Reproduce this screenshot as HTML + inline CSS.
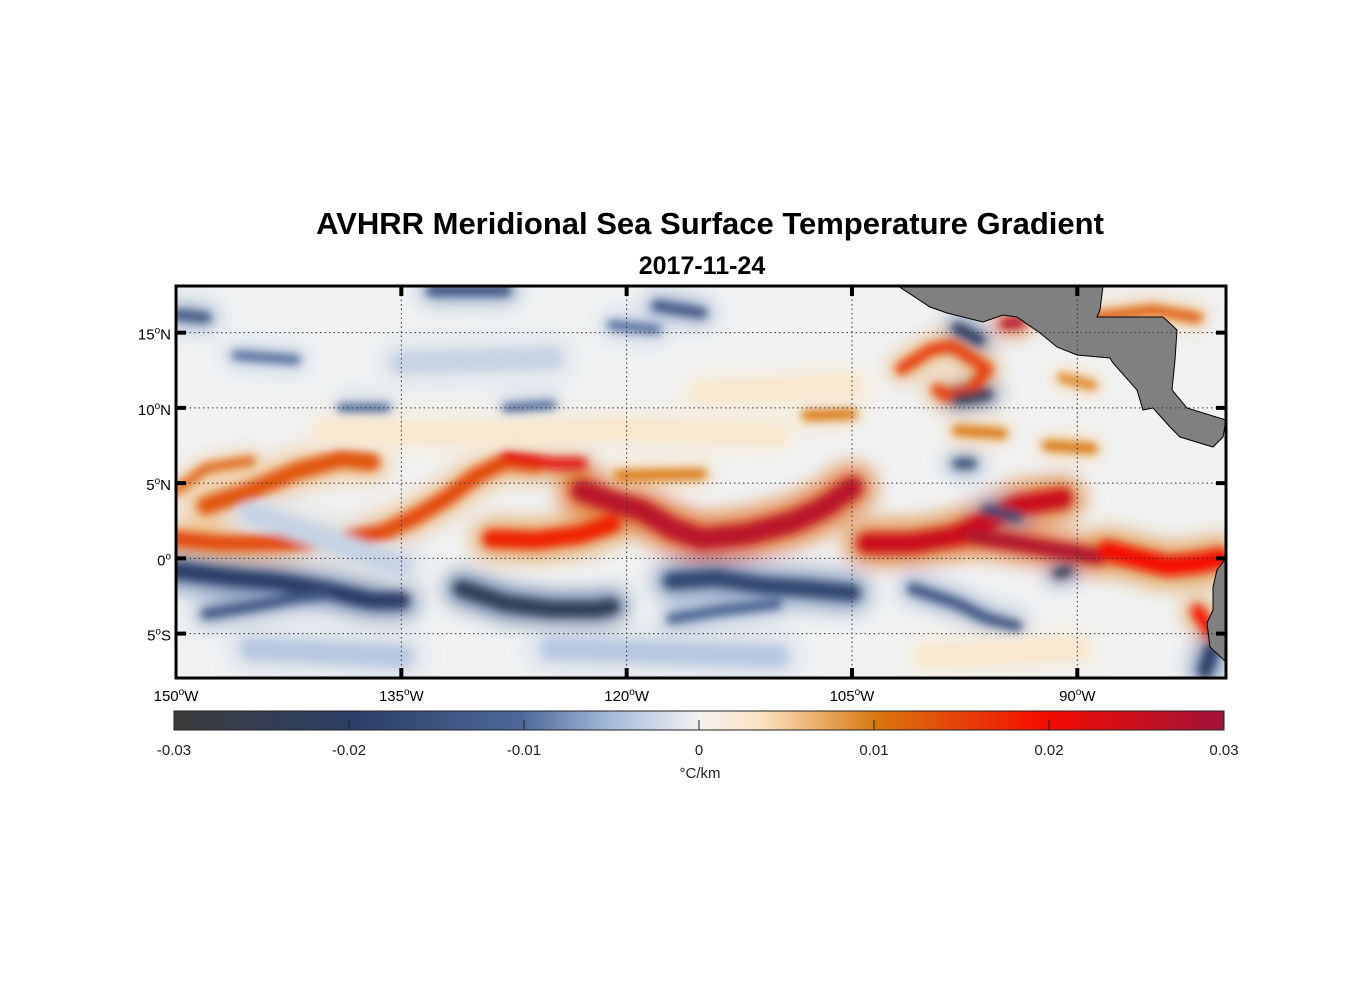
<!DOCTYPE html>
<html><head><meta charset="utf-8">
<style>
body{margin:0;background:#fff;width:1356px;height:1000px;overflow:hidden;font-family:"Liberation Sans",sans-serif;}
</style></head>
<body>
<svg id="chart" width="1356" height="1000" xmlns="http://www.w3.org/2000/svg" font-family="Liberation Sans, sans-serif">
<defs>
<filter id="blur" x="-20%" y="-20%" width="140%" height="140%"><feGaussianBlur stdDeviation="4.5"/></filter>
<filter id="blur2" x="-20%" y="-20%" width="140%" height="140%"><feGaussianBlur stdDeviation="10"/></filter>
<clipPath id="clip"><rect x="176" y="286" width="1050" height="392"/></clipPath>
<linearGradient id="cbar" x1="0" x2="1" y1="0" y2="0">
<stop offset="0" stop-color="#3c3c3c"/><stop offset="0.17" stop-color="#2b3e66"/>
<stop offset="0.33" stop-color="#4d6898"/><stop offset="0.42" stop-color="#a9bedd"/>
<stop offset="0.5" stop-color="#f2f2ef"/><stop offset="0.56" stop-color="#fbe2c2"/>
<stop offset="0.67" stop-color="#d8760e"/><stop offset="0.83" stop-color="#f40c00"/>
<stop offset="1" stop-color="#a0143a"/>
</linearGradient>
</defs>
<text x="710" y="234" text-anchor="middle" font-size="31" font-weight="bold">AVHRR Meridional Sea Surface Temperature Gradient</text>
<text x="702" y="274" text-anchor="middle" font-size="25" font-weight="bold">2017-11-24</text>
<g id="map" clip-path="url(#clip)">
<rect x="176" y="286" width="1050" height="392" fill="#f0f2f3"/>
<g id="halo" filter="url(#blur2)"></g>
<g id="core" filter="url(#blur)"></g>
<g id="land"></g>
<g id="grid"></g>
</g>
<rect x="176" y="286" width="1050" height="392" fill="none" stroke="#000" stroke-width="3"/>
<g id="axes"></g>
<rect x="174" y="711" width="1050" height="19" fill="url(#cbar)" stroke="#222" stroke-width="1"/>
<g id="cbticks"></g>
<text x="700" y="778" text-anchor="middle" font-size="15" fill="#222">°C/km</text>
</svg>
<script>
const lonTicks=[-150,-135,-120,-105,-90];
const lonLabels=['150','135','120','105','90'];
const latTicks=[15,10,5,0,-5];
const latLabels=['15','10','5','0','5'];
const latSuffix=['N','N','N','',"S"];
const cbTicks=[-0.03,-0.02,-0.01,0,0.01,0.02,0.03];
const cbLabels=['-0.03','-0.02','-0.01','0','0.01','0.02','0.03'];
const featPts=[
[[-150,1.3],[-147,1],[-143,1],[-139,1.2],[-136,1.8],[-134,2.8],[-132,4],[-130,5.5],[-128,6.5],[-126,6.3]],
[[-148,3.5],[-145,4.5],[-142,5.8],[-139,6.6],[-137,6.4]],
[[-129,1.3],[-126,1.2],[-123,1.6],[-121,2.3]],
[[-123,4.5],[-121,3.8],[-119,3.2],[-117,2],[-115,1.3],[-112,1.6],[-109,2.4],[-107,3.3],[-105,4.7]],
[[-104,1],[-101,1],[-98,1.5],[-96,2.5],[-94,3.5],[-91,4]],
[[-97,1.5],[-94,1],[-91,0.5],[-88.6,0.1]],
[[-88,0.5],[-86,0],[-84,-0.5],[-82,-0.3],[-80.5,0]],
[[-101.7,12.6],[-99.7,13.9],[-98.3,14.1],[-96,12.6],[-97,11.2],[-98.7,10.8],[-99.3,11.2]],
[[-94.8,15.6],[-93.8,15.7]],
[[-89,16],[-85,16.5],[-82,16]],
[[-150,4.5],[-148,6],[-145,6.5]],
[[-128,6.8],[-125,6.3],[-123,6.3]],
[[-120.5,5.5],[-115,5.6]],
[[-108,9.5],[-105,9.6]],[[-98,8.5],[-95,8.3]],[[-92,7.5],[-89,7.3]],[[-91,12],[-89,11.5]],[[-82,-3.5],[-81,-5]],
[[-150,-0.8],[-147,-1.2],[-143,-1.6],[-140,-2.1],[-137,-2.8],[-135,-2.8]],
[[-148,-3.7],[-145,-3.2],[-142,-2.6],[-140,-2.4]],
[[-131,-2],[-128,-3],[-125,-3.4],[-122,-3.4],[-121,-3.2]],
[[-117,-1.5],[-114,-1.3],[-111,-1.8],[-108,-2],[-105,-2.3]],
[[-117,-4],[-114,-3.5],[-110,-3]],
[[-101,-2],[-98,-3],[-96,-4],[-94,-4.5]],
[[-81,-6],[-81.5,-7.5]],
[[-150,16.2],[-148,16]],[[-133,17.8],[-128,17.8]],[[-118,16.8],[-115,16.3]],
[[-98,15.3],[-96.5,14.5]],[[-98,10.6],[-96,10.9]],[[-91.3,-1],[-90.6,-0.8]],
[[-98,6.3],[-97,6.3]],[[-96,3.2],[-94,2.8]],[[-139,10],[-136,10]],[[-128,10],[-125,10.2]],
[[-146,13.5],[-142,13.2]],[[-121,15.5],[-118,15.2]],
[[-140,8.5],[-130,8.3],[-120,8.6],[-110,8.2]],[[-145,3],[-135,-0.5]],[[-115,11],[-105,11.5]],
[[-135,13],[-125,13.3]],[[-125,-6],[-110,-6.5]],[[-145,-6],[-135,-6.5]],[[-100,-6.5],[-90,-6]]
];
const featVal=[0.014,0.013,0.018,0.027,0.025,0.028,0.02,0.015,0.028,0.012,0.012,0.022,0.01,
0.01,0.01,0.01,0.009,0.02,
-0.02,-0.015,-0.024,-0.018,-0.012,-0.015,-0.02,
-0.015,-0.016,-0.015,-0.022,-0.025,-0.025,-0.018,-0.018,-0.01,-0.01,-0.01,-0.01,
0.003,-0.003,0.003,-0.003,-0.004,-0.004,0.003];
const featW=[1.1,1.2,1.2,1.4,1.3,1.0,1.3,0.8,0.7,0.7,0.6,0.7,0.7,
0.7,0.7,0.7,0.7,0.8,
1.1,0.7,1.0,1.1,0.7,0.7,0.9,
0.7,0.7,0.7,0.7,0.7,0.6,0.6,0.7,0.6,0.6,0.6,0.6,
1.5,1.5,1.5,1.5,1.5,1.5,1.5];
const landA=[[898,286],[930,307],[947,313],[983,322],[1003,315],[1017,317],[1040,333],[1057,347],[1077,355],[1110,358],[1113,363],[1137,390],[1143,410],[1153,408],[1170,427],[1180,437],[1213,447],[1223,437],[1226,420],[1187,408],[1172,390],[1175,360],[1177,330],[1163,317],[1110,317],[1097,317],[1100,310],[1103,286]];
const landB=[[1226,558],[1217,570],[1213,587],[1213,610],[1207,623],[1210,647],[1226,662]];
const NS='http://www.w3.org/2000/svg';
const x0=176,x1=1226,lon0=-150,lon1=-80.1,y0=286,y1=678,lat0=18.1,lat1=-7.95;
const sx=l=>x0+(l-lon0)/(lon1-lon0)*(x1-x0);
const sy=l=>y0+(l-lat0)/(lat1-lat0)*(y1-y0);
const pxPerDeg=(x1-x0)/(lon1-lon0);
const cstops=[[-0.03,[60,60,60]],[-0.02,[43,62,102]],[-0.01,[77,104,152]],[-0.005,[169,190,221]],[0,[242,242,239]],[0.004,[251,226,194]],[0.01,[216,118,14]],[0.02,[244,12,0]],[0.03,[160,20,58]]];
function cmap(v){v=Math.max(-0.03,Math.min(0.03,v));for(let i=0;i<cstops.length-1;i++){const a=cstops[i],b=cstops[i+1];if(v<=b[0]){const t=(v-a[0])/(b[0]-a[0]);const c=a[1].map((q,k)=>Math.round(q+(b[1][k]-q)*t));return `rgb(${c})`;}}return 'rgb(160,20,58)';}
function mk(tag,attrs,parent){const e=document.createElementNS(NS,tag);for(const k in attrs)e.setAttribute(k,attrs[k]);parent.appendChild(e);return e;}
const halo=document.getElementById('halo'),core=document.getElementById('core');
featPts.forEach((pts,i)=>{
 const d=pts.map((p,j)=>(j?'L':'M')+sx(p[0]).toFixed(1)+' '+sy(p[1]).toFixed(1)).join(' ');
 const h=mk('path',{d:d,fill:'none',stroke:cmap(featVal[i]*0.45),'stroke-width':featW[i]*pxPerDeg*2.2,'stroke-linecap':'round','stroke-linejoin':'round',opacity:0.8},halo);
 
 
 const c=mk('path',{d:d,fill:'none',stroke:cmap(featVal[i]),'stroke-width':featW[i]*pxPerDeg,'stroke-linecap':'round','stroke-linejoin':'round'},core);
 
 
});
const land=document.getElementById('land');
const la=mk('polygon',{points:landA.map(p=>p.join(',')).join(' '),fill:'#808080',stroke:'#000','stroke-width':1},land);


const lb=mk('polygon',{points:landB.map(p=>p.join(',')).join(' '),fill:'#808080',stroke:'#000','stroke-width':1},land);


const grid=document.getElementById('grid'),axes=document.getElementById('axes');
lonTicks.forEach((l,i)=>{
 const x=sx(l);
 if(i>0){const g=mk('line',{x1:x,x2:x,y1:y0,y2:y1,stroke:'#333','stroke-width':1,'stroke-dasharray':'1.5,3'},grid);
 
 
 mk('line',{x1:x,x2:x,y1:y0,y2:y0+10,stroke:'#000','stroke-width':4},axes);
 mk('line',{x1:x,x2:x,y1:y1-10,y2:y1,stroke:'#000','stroke-width':4},axes);}
 const t=mk('text',{x:x,y:701,'text-anchor':'middle','font-size':15},axes);
 
 
 t.innerHTML=lonLabels[i]+'<tspan dy="-6" font-size="10">o</tspan><tspan dy="6">W</tspan>';
});
latTicks.forEach((l,i)=>{
 const y=sy(l);
 const g=mk('line',{x1:x0,x2:x1,y1:y,y2:y,stroke:'#333','stroke-width':1,'stroke-dasharray':'1.5,3'},grid);
 
 
 mk('line',{x1:x0,x2:x0+10,y1:y,y2:y,stroke:'#000','stroke-width':4},axes);
 mk('line',{x1:x1-10,x2:x1,y1:y,y2:y,stroke:'#000','stroke-width':4},axes);
 const t=mk('text',{x:171,y:y+7,'text-anchor':'end','font-size':15},axes);
 
 
 t.innerHTML=latLabels[i]+'<tspan dy="-6" font-size="10">o</tspan><tspan dy="6">'+latSuffix[i]+'</tspan>';
});
const cb=document.getElementById('cbticks');
cbTicks.forEach((v,i)=>{
 const x=174+(v+0.03)/0.06*1050;
 if(i>0&&i<cbTicks.length-1){mk('line',{x1:x,x2:x,y1:720,y2:730,stroke:'#222','stroke-width':1},cb);}
 const t=mk('text',{x:x,y:755,'text-anchor':'middle','font-size':15,fill:'#222'},cb);
 
 
 t.textContent=cbLabels[i];
});
</script>
</body></html>
